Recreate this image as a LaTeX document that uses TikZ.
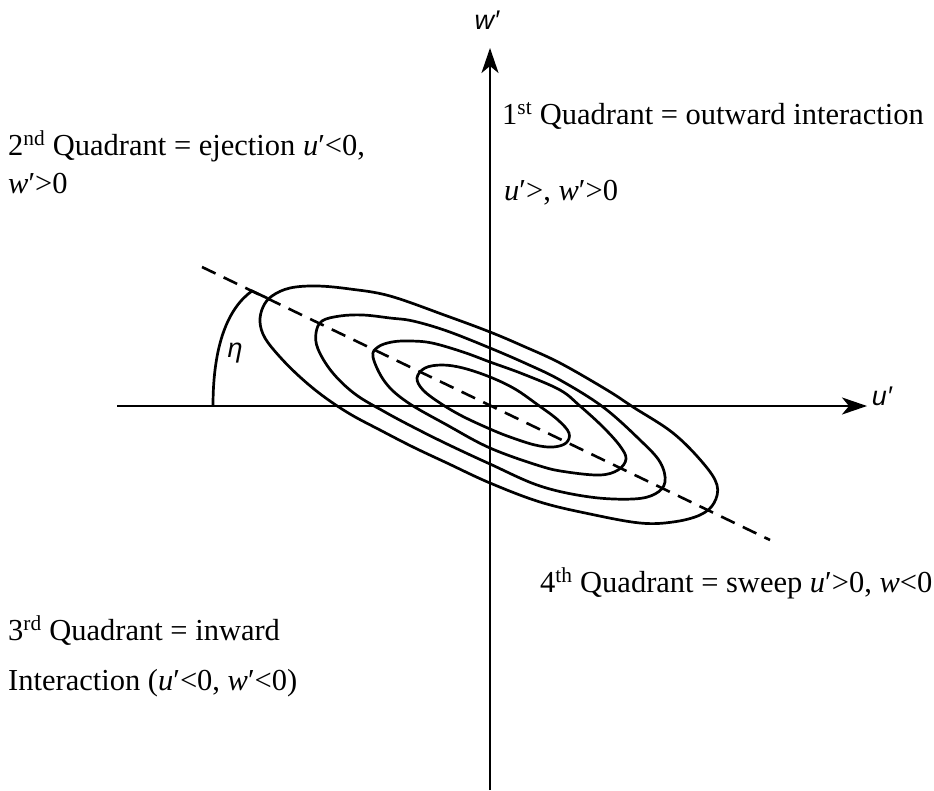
\documentclass[tikz,border=0pt]{standalone}
\usepackage{fontspec}
\setmainfont{Liberation Serif}
\newfontfamily\axisfont{Liberation Sans}
\usetikzlibrary{arrows.meta}
\begin{document}
\begin{tikzpicture}[x=1pt,y=-1pt,
  axis/.style={line width=2.7pt, -{Stealth[length=25pt,width=17pt,inset=7pt]}},
  contour/.style={line width=2.7pt},
  dashline/.style={line width=2.6pt, dash pattern=on 15pt off 9pt},
  lbl/.style={anchor=base west, inner sep=0pt, font=\fontsize{30.5}{36}\selectfont},
  axlbl/.style={inner sep=0pt, font=\axisfont\itshape\fontsize{27}{30}\selectfont}]
\useasboundingbox (0,0) rectangle (934,790);
% axes
\coordinate (xl) at (117,406);
\coordinate (xe) at (867,406);
\coordinate (yb) at (490,790);
\coordinate (ye) at (490,48);
\draw[axis] (xl) -- (xe);
\draw[axis] (yb) -- (ye);
\node[axlbl] (ulab) at (882,396) {u′};
\node[axlbl] (wlab) at (487,20) {w′};
% dashed principal axis
\coordinate (d1) at (202,267);
\coordinate (d2) at (770,540);
\draw[dashline] (d1) -- (d2);
% angle eta
\coordinate (a0) at (213,406);
\coordinate (a1) at (252,291);
\coordinate (a2) at (267,298);
\draw[contour] (a0) .. controls (213,345) and (228,308) .. (a1) -- (a2);
\node[axlbl] (eta) at (235,353) {η};
% contours
\draw[contour] plot[smooth cycle, tension=0.6] coordinates {
 (260,322) (263,307) (272,296) (290,288) (317,286) (350,289) (390,296) (447,316)
 (490,332) (523,346) (560,363) (607,390) (633,407) (673,433) (703,463) (717,485)
 (714,503) (700,515) (673,522) (640,523) (590,514) (540,502) (490,483) (447,463)
 (413,447) (380,430) (350,414) (323,396) (300,377) (280,357) (265,338)};
\draw[contour] plot[smooth cycle, tension=0.6] coordinates {
 (316,333) (322,321) (340,316) (363,315) (390,318) (413,321) (447,331) (490,348)
 (527,364) (560,380) (603,407) (640,440) (660,462) (665,482) (655,494) (633,499)
 (590,497) (540,486) (490,464) (447,444) (413,427) (385,412) (355,394) (332,372)
 (318,349)};
\draw[contour] plot[smooth cycle, tension=0.6] coordinates {
 (373,357) (378,347) (392,342) (410,341) (432,343) (463,352) (490,362) (523,374)
 (560,390) (580,406) (603,427) (620,446) (626,459) (618,470) (600,475) (567,472)
 (540,466) (490,448) (447,425) (407,402) (385,382)};
\draw[contour] plot[smooth cycle, tension=0.6] coordinates {
 (417,378) (425,368) (442,365) (463,368) (490,377) (515,389) (538,405) (558,420)
 (569,433) (566,443) (553,447) (535,445) (510,437) (490,429) (462,416) (440,403)
 (423,390)};
% quadrant labels
\node[lbl] (q2a) at (8,155) {2\textsuperscript{nd} Quadrant = ejection \textit{u}′<0,};
\node[lbl] (q2b) at (8,193) {\textit{w}′>0};
\node[lbl] (q1a) at (502,124) {1\textsuperscript{st} Quadrant = outward interaction};
\node[lbl] (q1b) at (504,200) {\textit{u}′>, \textit{w}′>0};
\node[lbl] (q3a) at (8,640) {3\textsuperscript{rd} Quadrant = inward};
\node[lbl] (q3b) at (8,690) {Interaction (\textit{u}′<0, \textit{w}′<0)};
\node[lbl] (q4) at (540,592) {4\textsuperscript{th} Quadrant = sweep \textit{u}′>0, \textit{w}<0};
\end{tikzpicture}
\end{document}
